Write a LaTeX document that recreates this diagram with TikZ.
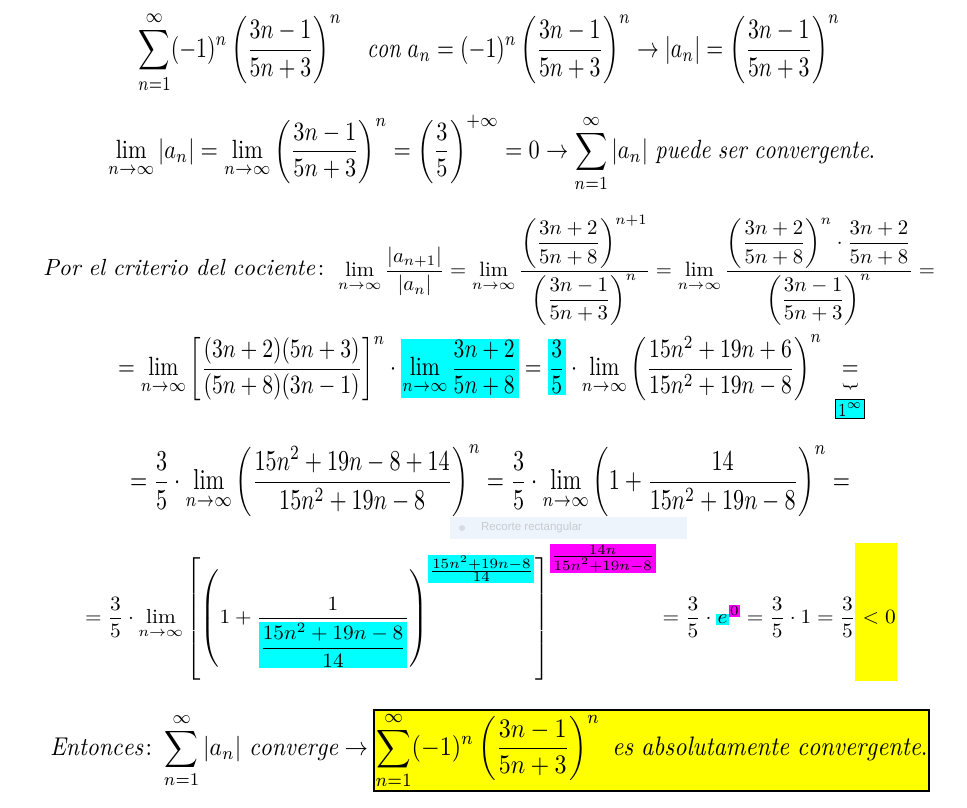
\documentclass[tikz,border=0pt]{standalone}
\usepackage{amsmath}
\usepackage{amssymb}
\usepackage{graphicx}
\usepackage{fontspec}
\newfontfamily\uifont{Liberation Sans}
\usepackage{tikz}

\definecolor{hlcyan}{RGB}{0,255,255}
\definecolor{hlmag}{RGB}{255,0,255}
\definecolor{hlyel}{RGB}{255,255,0}
\definecolor{snipbg}{RGB}{238,244,251}
\definecolor{snipdot}{RGB}{214,220,228}
\definecolor{sniptext}{RGB}{200,204,210}

\newcommand{\hlbox}[3]{{\setlength{\fboxsep}{0.6pt}\colorbox{#1}{$#2#3$}}}
\newcommand{\limn}{\lim_{n\to\infty}}
\newcommand{\frA}{\frac{3n-1}{5n+3}}
\newcommand{\frB}{\frac{3n+2}{5n+8}}
\newcommand{\expfr}[2]{\frac{\scriptstyle #1}{\scriptstyle #2}}
\newcommand{\bigbr}{\left[\left(1+\dfrac{1}{\hlbox{hlcyan}{\displaystyle}{\frac{15n^2+19n-8}{14}}}\right)^{\hlbox{hlcyan}{\scriptstyle}{\expfr{15n^2+19n-8}{14}}}\right]^{\hlbox{hlmag}{\scriptstyle}{\expfr{14n}{15n^2+19n-8}}}}
\newcommand{\onebrace}{\rotatebox[origin=c]{-90}{$\scriptstyle\}$}}

\begin{document}
\begin{tikzpicture}[x=1pt, y=-1pt, every node/.style={anchor=north west, inner sep=0pt, outer sep=0pt}]
\useasboundingbox (0,0) rectangle (967,808);

% line 1
\node (line1) at (138,11) {\resizebox*{702pt}{82pt}{$\displaystyle
  \sum_{n=1}^{\infty}(-1)^n\left(\frA\right)^n\quad \mathit{con}\ a_n=(-1)^n\left(\frA\right)^n\to|a_n|=\left(\frA\right)^n$}};

% line 2
\node (line2) at (108,115) {\resizebox*{767pt}{77pt}{$\displaystyle
  \limn|a_n|=\limn\left(\frA\right)^n=\left(\frac{3}{5}\right)^{+\infty}=0\to\sum_{n=1}^{\infty}|a_n|\ \mathit{puede\ ser\ convergente}.$}};

% line 3
\node[anchor=base west] (crit) at (43,275) {\resizebox{289pt}{!}{$\mathit{Por\ el\ criterio\ del\ cociente}\colon$}};
\node[anchor=west] (line3) at (338,270) {\resizebox{597pt}{!}{$\displaystyle
  \limn\frac{|a_{n+1}|}{|a_n|}=\limn\frac{\left(\dfrac{3n+2}{5n+8}\right)^{n+1}}{\left(\dfrac{3n-1}{5n+3}\right)^{n}}=\limn\frac{\left(\dfrac{3n+2}{5n+8}\right)^{n}\cdot\dfrac{3n+2}{5n+8}}{\left(\dfrac{3n-1}{5n+3}\right)^{n}}=$}};

% line 4
\node (line4) at (118,335) {\resizebox*{747pt}{87pt}{$\displaystyle
  =\limn\left[\frac{(3n+2)(5n+3)}{(5n+8)(3n-1)}\right]^n\cdot\hlbox{hlcyan}{\displaystyle}{\limn\frB}=\hlbox{hlcyan}{\displaystyle}{\frac{3}{5}}\cdot\limn\left(\frac{15n^2+19n+6}{15n^2+19n-8}\right)^n\ \underset{{\setlength{\fboxsep}{0.8pt}\fcolorbox{black}{hlcyan}{$\scriptstyle 1^{\infty}$}}}{\underset{\onebrace}{=}}$}};

% line 5
\node (line5) at (130,445) {\resizebox*{720pt}{72pt}{$\displaystyle
  =\frac{3}{5}\cdot\limn\left(\frac{15n^2+19n-8+14}{15n^2+19n-8}\right)^n=\frac{3}{5}\cdot\limn\left(1+\frac{14}{15n^2+19n-8}\right)^n=$}};

% recorte
\fill[snipbg] (450,517) rectangle (687,539);
\fill[snipdot] (462,528) circle (3);
\node[anchor=west, text=sniptext] (snip) at (481,528) {\uifont\fontsize{11.5}{13}\selectfont Recorte rectangular};

% line 7
\node (line7) at (85,543) {\resizebox*{812pt}{138pt}{$\displaystyle
  =\frac{3}{5}\cdot\limn\bigbr=\frac{3}{5}\cdot\hlbox{hlcyan}{\displaystyle}{e}^{\hlbox{hlmag}{\scriptstyle}{0}}=\frac{3}{5}\cdot1=\frac{3}{5}\hlbox{hlyel}{\displaystyle}{\vphantom{\bigbr}<0}$}};

% line 8
\node (line8) at (50,713) {\resizebox*{318pt}{75pt}{$\displaystyle
  \mathit{Entonces}\colon\sum_{n=1}^{\infty}|a_n|\ \mathit{converge}\to$}};
\node[draw=black, fill=hlyel, line width=1.5pt, inner sep=1.5pt] (result) at (374,710) {\resizebox*{552pt}{78pt}{$\displaystyle
  \sum_{n=1}^{\infty}(-1)^n\left(\frA\right)^n\ \mathit{es\ absolutamente\ convergente}.$}};
\end{tikzpicture}
\end{document}
